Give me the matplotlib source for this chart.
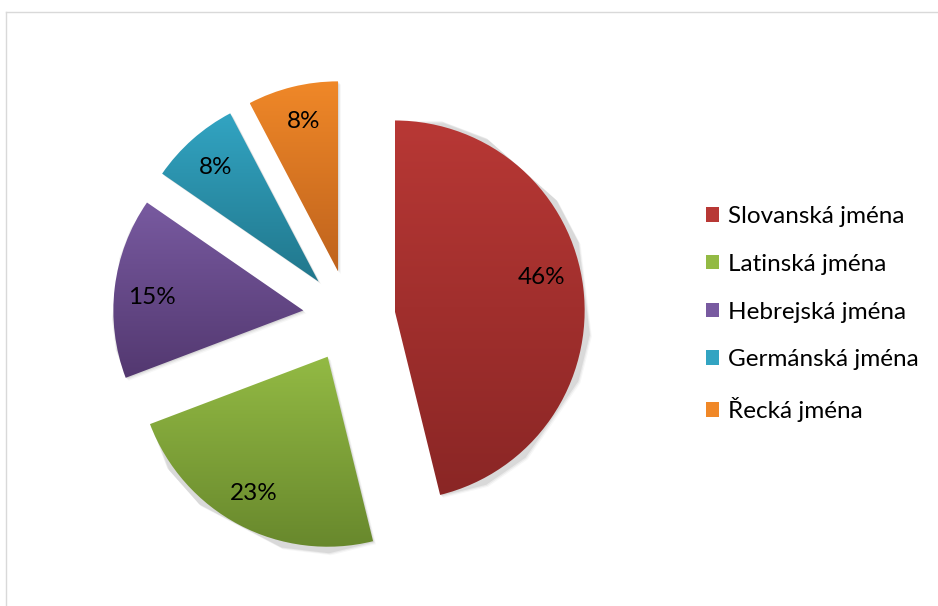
import numpy as np
import matplotlib
matplotlib.use("Agg")
import matplotlib.pyplot as plt
from matplotlib.patches import Patch
from matplotlib.colors import to_rgb
from matplotlib.lines import Line2D

# Share of given names by origin
categories = ["Slovanská jména", "Latinská jména", "Hebrejská jména",
              "Germánská jména", "Řecká jména"]
counts = [6, 3, 2, 1, 1]

# gradient colours per slice (top, bottom)
top_colors = ["#B83835", "#93BA44", "#785AA0", "#32A4C2", "#F08828"]
bottom_colors = ["#8A2625", "#67872C", "#533870", "#21778C", "#BF631D"]

W, H = 938, 606
fig = plt.figure(figsize=(W / 100, H / 100), dpi=100)
ax = fig.add_axes([0, 0, 1, 1])

cx, cy, R = 349, H - 316, 190
explode = [0.242 * R] * len(counts)   # pie offsets are in data units

wedges, _ = ax.pie(counts, explode=explode, startangle=90, counterclock=False,
                   center=(cx, cy), radius=R, frame=True,
                   wedgeprops=dict(linewidth=0))
ax.set_xlim(0, W)
ax.set_ylim(0, H)
ax.set_aspect("equal")
ax.axis("off")

# vertical gradient fill for every wedge, plus a soft shadow
for w, ct, cb in zip(wedges, top_colors, bottom_colors):
    verts = w.get_path().vertices
    verts = w.get_patch_transform().transform(verts)
    x0, y0 = verts.min(axis=0)
    x1, y1 = verts.max(axis=0)
    for k, a in [(3, 0.03), (2, 0.05), (1, 0.07)]:
        sh = plt.Polygon(verts + np.array([k, -k]), closed=True,
                         facecolor="black", alpha=a, linewidth=0, zorder=0.5)
        ax.add_patch(sh)
    t = np.linspace(0, 1, 256)[:, None]
    c0, c1 = np.array(to_rgb(ct)), np.array(to_rgb(cb))
    grad = c0[None, None, :] * (1 - t[:, :, None]) + c1[None, None, :] * t[:, :, None]
    im = ax.imshow(grad, extent=(x0, x1, y0, y1), origin="upper",
                   aspect="auto", zorder=1, interpolation="bilinear")
    im.set_clip_path(w)
    w.set_facecolor("none")
    w.set_zorder(2)

# percentage labels
total = sum(counts)
label_angles = [77.5, 208.5, 275, 318, 347]   # clockwise from 12 o'clock
label_dist = [0.79, 0.82, 0.80, 0.81, 0.81]
for w, v, ang, dist in zip(wedges, counts, label_angles, label_dist):
    wx, wy = w.center
    th = np.deg2rad(ang)
    lx = wx + dist * R * np.sin(th)
    ly = wy + dist * R * np.cos(th)
    ax.text(lx, ly, f"{round(v / total * 100)}%", ha="center", va="center",
            fontsize=17.5, family="Lato", color="black", zorder=3)

handles = [Patch(facecolor=c, edgecolor="none") for c in top_colors]
leg = fig.legend(handles, categories, loc="center left",
                 bbox_to_anchor=(706 / W, 1 - 314 / H), frameon=False,
                 prop=dict(family="Lato", size=17.5), handlelength=0.55,
                 handleheight=0.55, handletextpad=0.35, labelspacing=1.1,
                 borderpad=0, borderaxespad=0)

# light chart-area border
fig.add_artist(Line2D([6 / W, 1], [1 - 12 / H, 1 - 12 / H], color="#D9D9D9",
                      lw=1.0, transform=fig.transFigure))
fig.add_artist(Line2D([6 / W, 6 / W], [1 - 12 / H, 0], color="#D9D9D9",
                      lw=1.0, transform=fig.transFigure))

fig.savefig("out.png", dpi=100)
